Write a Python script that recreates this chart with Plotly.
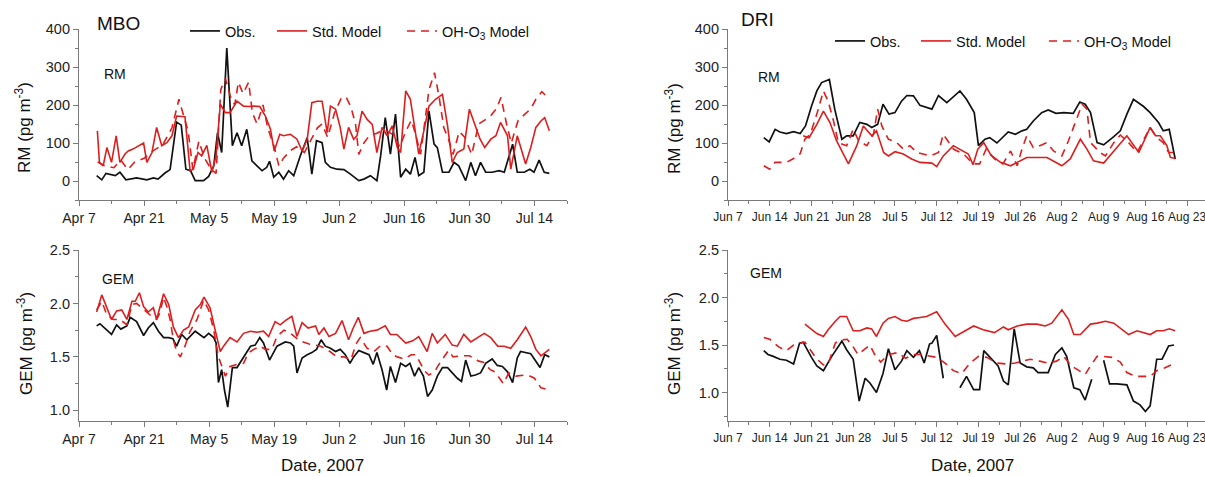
import pandas as pd
import plotly.graph_objects as go

W, H = 1205, 477

MBO_START = "2007-04-07"
DRI_START = "2007-06-07"

# ---------------- MBO RM (days since Apr 7) ----------------
mbo_rm_obs_day = [3.8, 4.9, 5.8, 7.8, 8.8, 10.1, 12.4, 14.6, 16.0, 17.0, 18.5, 19.6, 21.0, 22.0, 23.0, 24.0, 25.0, 26.8,
                  27.9, 29.0, 29.8, 30.7, 31.8, 32.5, 33.0, 34.0, 35.0, 36.1, 37.2, 38.3, 39.4, 40.4, 41.0, 41.9, 43.0,
                  44.0, 45.1, 46.2, 47.6, 49.1, 50.1, 51.1, 52.3, 53.0, 54.1, 55.5, 57.0, 58.4, 60.2, 61.3, 62.7, 64.1,
                  64.9, 65.9, 67.0, 68.1, 69.2, 70.3, 71.3, 72.3, 73.1, 74.2, 75.3, 76.4, 77.1, 78.2, 79.6, 80.7, 81.7,
                  83.2, 84.3, 85.3, 86.4, 87.5, 88.9, 90.4, 91.5, 93.3, 94.3, 95.8, 97.0, 97.9, 99.0, 100.1, 101.2]
mbo_rm_obs = [14, 3, 20, 14, 23, 3, 8, 3, 8, 5, 21, 30, 155, 147, 31, 27, 1, 1,
              12, 40, 127, 75, 350, 197, 93, 127, 93, 136, 53, 40, 27, 36, 52, 10, 23,
              5, 27, 14, 66, 114, 18, 106, 101, 49, 36, 31, 30, 18, 1, 5, 14, 1,
              66, 167, 71, 176, 10, 31, 18, 62, 14, 23, 184, 97, 88, 23, 23, 49, 40,
              1, 49, 14, 49, 23, 23, 27, 23, 97, 23, 23, 31, 23, 55, 23, 20]

mbo_rm_std_day = [3.95, 4.4, 5.2, 6.0, 7.0, 8.0, 8.8, 9.9, 10.6, 11.6, 13.9, 14.6, 15.7, 16.7, 17.8, 18.9, 20.0, 21.0,
                  22.8, 23.9, 24.6, 25.6, 26.4, 27.5, 28.6, 29.5, 30.4, 31.5, 32.5, 34.0, 35.4, 36.5, 37.6, 38.9, 40.1,
                  41.2, 42.0, 43.2, 44.0, 45.5, 46.9, 48.0, 49.1, 50.1, 51.2, 52.3, 53.4, 54.1, 55.2, 56.2, 57.0, 58.0,
                  59.1, 59.8, 60.9, 62.0, 63.1, 64.1, 65.2, 66.3, 67.4, 68.5, 69.2, 70.3, 71.3, 72.2, 73.1, 74.2, 75.3,
                  76.7, 78.2, 79.3, 80.3, 81.4, 82.8, 84.0, 85.2, 86.3, 87.3, 88.6, 89.7, 90.7, 92.2, 92.9, 94.3, 95.4,
                  96.1, 97.2, 98.3, 99.4, 100.2, 101.2]
mbo_rm_std = [132, 49, 40, 88, 49, 119, 49, 71, 79, 84, 100, 49, 75, 141, 93, 101, 119, 171,
              169, 27, 31, 75, 66, 94, 23, 66, 202, 180, 180, 210, 197, 196, 197, 196, 171,
              136, 79, 123, 119, 123, 110, 79, 110, 206, 210, 210, 127, 197, 189, 141, 84, 141,
              110, 119, 184, 162, 149, 75, 141, 119, 145, 88, 75, 237, 215, 145, 71, 132, 197,
              215, 228, 145, 49, 75, 84, 189, 145, 110, 88, 110, 119, 154, 119, 31, 119, 75,
              45, 88, 141, 158, 167, 132]

mbo_rm_oh_day = [4.0, 5.5, 7.5, 9.0, 10.5, 12.0, 14.0, 16.0, 18.0, 20.0, 21.5, 22.5, 23.5, 24.5, 25.8, 27.0, 28.5, 29.5,
                 30.5, 31.5, 32.5, 33.5, 34.3, 35.3, 36.5, 37.3, 38.3, 39.6, 40.6, 42.0, 43.0, 44.0, 45.5, 46.8, 48.5,
                 50.0, 51.3, 52.3, 53.5, 55.0, 56.5, 57.5, 58.5, 59.5, 60.2, 61.3, 62.5, 64.0, 65.5, 66.5, 67.8, 69.0,
                 70.3, 71.5, 72.5, 73.5, 75.3, 76.5, 77.5, 78.5, 79.5, 80.5, 81.8, 83.0, 84.5, 86.0, 87.3, 88.5, 89.8,
                 90.8, 92.0, 93.0, 94.5, 95.8, 97.2, 98.3, 99.6, 101.2]
mbo_rm_oh = [50, 40, 35, 55, 30, 50, 60, 80, 95, 140, 215, 170, 130, 30, 105, 60, 30, 20,
             240, 270, 225, 200, 260, 230, 260, 180, 150, 200, 140, 90, 40, 60, 80, 90, 75,
             110, 140, 150, 115, 180, 220, 220, 195, 150, 70, 100, 120, 125, 135, 130, 120, 90,
             130, 160, 120, 70, 240, 285, 220, 140, 110, 70, 130, 115, 70, 150, 160, 170, 190,
             220, 150, 100, 160, 175, 190, 215, 235, 215]

# ---------------- MBO GEM ----------------
mbo_gem_obs_day = [3.8, 4.5, 7.0, 8.1, 9.0, 10.3, 11.0, 12.4, 13.9, 14.9, 16.0, 17.1, 18.2, 19.3, 20.2, 21.0, 22.1, 23.2,
                   25.0, 26.1, 26.9, 27.9, 29.0, 29.5, 30.0, 30.7, 31.3, 32.0, 33.0, 34.0, 35.4, 36.9, 37.9, 38.9, 39.7,
                   41.0, 42.6, 44.4, 45.5, 46.2, 46.9, 48.0, 49.1, 50.1, 51.1, 52.1, 53.0, 54.1, 55.2, 56.2, 57.3, 58.3,
                   59.1, 60.2, 61.3, 62.4, 63.3, 64.1, 65.2, 66.2, 67.0, 68.1, 69.2, 70.3, 71.2, 72.2, 73.1, 74.1, 75.0,
                   76.0, 77.1, 78.2, 79.3, 80.3, 81.4, 82.3, 83.2, 84.3, 85.3, 86.4, 87.5, 88.9, 90.0, 91.1, 92.2, 93.3,
                   94.3, 95.0, 96.1, 97.2, 98.3, 99.2, 100.2, 101.2]
mbo_gem_obs = [1.79, 1.81, 1.71, 1.80, 1.76, 1.79, 1.87, 1.83, 1.70, 1.77, 1.82, 1.74, 1.68, 1.68, 1.67, 1.60, 1.71, 1.66,
               1.74, 1.71, 1.68, 1.72, 1.68, 1.63, 1.26, 1.38, 1.19, 1.03, 1.40, 1.40, 1.50, 1.60, 1.61, 1.68, 1.63,
               1.47, 1.60, 1.64, 1.63, 1.60, 1.35, 1.49, 1.52, 1.54, 1.57, 1.66, 1.60, 1.58, 1.55, 1.57, 1.52, 1.44,
               1.50, 1.56, 1.54, 1.52, 1.43, 1.54, 1.38, 1.19, 1.41, 1.26, 1.44, 1.41, 1.44, 1.32, 1.40, 1.32, 1.13,
               1.19, 1.32, 1.40, 1.40, 1.35, 1.30, 1.27, 1.47, 1.32, 1.33, 1.35, 1.44, 1.48, 1.42, 1.41, 1.36, 1.26,
               1.49, 1.55, 1.54, 1.53, 1.46, 1.40, 1.52, 1.50]

mbo_gem_std_day = [3.8, 4.9, 6.0, 7.0, 8.1, 9.2, 10.3, 11.4, 12.1, 13.0, 13.9, 14.9, 16.0, 16.7, 18.2, 19.3, 20.3, 21.4,
                   22.5, 23.6, 25.0, 26.1, 26.9, 28.2, 29.3, 30.4, 31.1, 32.5, 34.0, 35.4, 36.9, 38.3, 39.7, 40.8, 42.2,
                   43.3, 44.4, 45.8, 46.9, 48.0, 49.3, 50.9, 51.6, 52.7, 53.8, 55.2, 56.6, 58.0, 59.0, 60.1, 61.3, 62.6,
                   64.1, 65.9, 67.0, 68.4, 70.3, 71.8, 73.1, 74.9, 76.0, 77.1, 78.8, 80.3, 81.4, 82.8, 84.3, 85.8, 87.2,
                   88.6, 90.1, 91.5, 92.9, 94.3, 96.1, 97.2, 98.3, 99.4, 100.2, 101.2]
mbo_gem_std = [1.92, 2.08, 1.96, 1.85, 1.93, 1.94, 1.85, 2.02, 2.02, 2.10, 1.97, 1.92, 1.96, 1.85, 2.09, 1.99, 1.78, 1.68,
               1.75, 1.78, 1.94, 1.99, 2.06, 1.96, 1.75, 1.55, 1.60, 1.68, 1.64, 1.72, 1.74, 1.73, 1.74, 1.69, 1.83,
               1.80, 1.84, 1.88, 1.69, 1.82, 1.77, 1.79, 1.71, 1.77, 1.69, 1.72, 1.84, 1.66, 1.77, 1.87, 1.72, 1.74,
               1.75, 1.79, 1.71, 1.71, 1.63, 1.65, 1.69, 1.55, 1.72, 1.63, 1.71, 1.61, 1.60, 1.71, 1.64, 1.68, 1.72,
               1.68, 1.60, 1.60, 1.58, 1.66, 1.78, 1.69, 1.57, 1.51, 1.54, 1.57]

mbo_gem_oh_day = [3.8, 4.9, 6.0, 7.4, 8.8, 10.3, 11.4, 12.4, 13.5, 14.6, 15.6, 16.7, 17.4, 18.2, 18.9, 19.6, 20.3, 21.0,
                  21.8, 22.8, 23.9, 25.4, 26.8, 27.9, 29.0, 30.0, 30.7, 31.5, 32.5, 34.0, 35.4, 36.5, 37.6, 39.0, 40.1,
                  41.5, 42.6, 44.1, 45.5, 47.5, 49.5, 52.0, 54.0, 55.5, 57.0, 58.5, 59.6, 60.5, 62.0, 63.5, 65.0, 66.3,
                  67.5, 68.5, 70.0, 71.5, 72.5, 74.3, 75.3, 76.5, 77.3, 79.5, 80.5, 82.5, 84.0, 86.0, 87.0, 88.5, 89.5,
                  90.5, 91.3, 92.5, 94.0, 96.0, 97.0, 98.0, 99.4, 100.4, 101.2]
mbo_gem_oh = [1.94, 2.02, 1.89, 1.85, 1.85, 1.80, 1.99, 2.00, 1.96, 1.92, 1.88, 1.85, 1.91, 2.06, 1.97, 1.85, 1.66, 1.55,
              1.50, 1.60, 1.74, 1.85, 2.03, 1.94, 1.75, 1.50, 1.41, 1.32, 1.41, 1.43, 1.44, 1.54, 1.57, 1.60, 1.57,
              1.57, 1.69, 1.75, 1.72, 1.65, 1.62, 1.60, 1.55, 1.50, 1.50, 1.47, 1.62, 1.68, 1.58, 1.55, 1.61, 1.60,
              1.52, 1.50, 1.48, 1.52, 1.52, 1.37, 1.33, 1.36, 1.42, 1.56, 1.50, 1.51, 1.51, 1.46, 1.45, 1.38, 1.36,
              1.30, 1.25, 1.35, 1.32, 1.33, 1.32, 1.30, 1.21, 1.20, 1.22]

# ---------------- DRI RM (days since Jun 7) ----------------
dri_rm_obs_day = [6.0, 6.9, 7.9, 8.7, 9.8, 11.0, 12.1, 13.0, 14.0, 14.9, 15.7, 17.0, 17.9, 19.1, 19.9, 21.0, 22.1, 23.3,
                  24.1, 25.1, 26.0, 27.0, 28.0, 29.1, 30.0, 31.1, 32.2, 34.2, 35.3, 36.7, 38.9, 40.0, 41.3, 42.0, 43.1,
                  43.9, 45.1, 47.0, 48.2, 49.3, 50.1, 51.2, 52.6, 53.7, 55.0, 56.3, 57.9, 59.0, 59.9, 60.8, 61.9, 63.0,
                  64.7, 65.8, 66.9, 68.0, 69.7, 70.8, 72.2, 73.0, 74.0, 74.7, 75.0]
dri_rm_obs = [114, 103, 136, 129, 125, 130, 125, 145, 197, 237, 259, 267, 189, 110, 119, 119, 154, 149,
              141, 149, 202, 176, 180, 210, 225, 224, 199, 189, 225, 206, 237, 215, 180, 93, 110,
              114, 100, 129, 123, 132, 136, 158, 180, 187, 178, 180, 178, 208, 202, 180, 101, 95,
              117, 132, 176, 215, 196, 180, 154, 132, 136, 79, 58]

dri_rm_std_day = [12.6, 13.6, 14.9, 16.0, 17.1, 18.2, 20.2, 21.6, 22.7, 24.1, 24.9, 26.1, 26.9, 28.0, 29.4, 30.8, 32.2,
                  34.2, 35.0, 36.1, 37.8, 39.5, 40.3, 41.1, 41.9, 42.9, 44.1, 45.7, 47.4, 48.5, 50.1, 53.5, 56.0, 57.4,
                  59.1, 60.2, 61.3, 63.0, 65.2, 66.9, 68.9, 70.8, 71.7, 72.5, 73.6, 74.2, 75.0]
dri_rm_std = [119, 114, 149, 184, 154, 106, 45, 93, 145, 119, 132, 75, 66, 77, 71, 58, 49,
              47, 38, 66, 93, 79, 71, 43, 84, 101, 68, 49, 40, 49, 62, 62, 40, 58,
              110, 84, 53, 47, 88, 119, 75, 141, 119, 119, 93, 62, 59]

dri_rm_oh_day = [6.0, 7.0, 7.9, 9.8, 11.0, 12.1, 12.9, 13.8, 14.9, 16.0, 16.8, 17.7, 18.5, 19.9, 21.0, 21.9, 23.3, 24.4,
                 25.1, 25.8, 26.9, 28.3, 29.4, 30.5, 31.7, 32.2, 33.9, 35.3, 36.1, 37.8, 39.5, 41.1, 42.2, 43.3, 44.7,
                 46.1, 47.4, 48.5, 49.3, 50.1, 51.2, 52.3, 53.5, 54.6, 56.0, 57.1, 58.3, 59.4, 60.2, 60.8, 62.4, 63.3,
                 64.7, 65.8, 67.2, 68.6, 70.8, 71.9, 73.0, 73.9, 74.7]
dri_rm_oh = [40, 31, 49, 49, 59, 72, 110, 123, 176, 237, 210, 158, 101, 93, 136, 106, 93, 123,
             189, 145, 110, 101, 84, 93, 75, 73, 66, 75, 123, 84, 71, 45, 45, 84, 58,
             45, 79, 40, 84, 119, 88, 93, 101, 79, 66, 106, 154, 202, 189, 101, 75, 66,
             101, 121, 101, 75, 141, 114, 101, 75, 75]

# ---------------- DRI GEM ----------------
dri_gem_obs_day = [6.0, 6.7, 7.6, 8.7, 9.8, 11.0, 12.0, 12.6, 14.0, 14.9, 16.0, 17.4, 19.1, 19.9, 21.0, 22.0, 23.0, 23.8,
                   24.9, 26.0, 26.9, 28.0, 29.1, 30.0, 31.1, 32.1, 32.9, 33.8, 34.2, 35.0, 36.1, 37.5, 38.9, 40.0, 41.2,
                   42.2, 42.9, 44.2, 45.3, 46.2, 47.0, 48.0, 49.0, 50.1, 51.2, 52.0, 53.7, 54.9, 56.0, 56.8, 58.0, 59.0,
                   59.9, 61.0, 62.0, 63.0, 64.0, 65.2, 66.9, 68.0, 69.1, 70.0, 70.8, 71.9, 72.8, 73.9, 74.8]
dri_gem_obs = [1.44, 1.40, 1.38, 1.35, 1.34, 1.30, 1.52, 1.53, 1.37, 1.28, 1.23, 1.38, 1.54, 1.45, 1.35, 0.91, 1.15, 1.10,
               1.00, 1.20, 1.46, 1.24, 1.33, 1.44, 1.37, 1.44, 1.31, 1.51, 1.52, 1.60, 1.15, None, 1.05, 1.17, 1.03,
               1.03, 1.44, 1.35, 1.28, 1.12, 1.08, 1.67, 1.31, 1.27, 1.26, 1.21, 1.21, 1.40, 1.47, 1.38, 1.05, 1.03,
               0.92, 1.14, None, 1.34, 1.09, 1.09, 1.08, 0.91, 0.87, 0.80, 0.86, 1.35, 1.35, 1.49, 1.50]

dri_gem_std_day = [12.9, 14.0, 14.9, 16.0, 16.8, 18.0, 18.8, 19.9, 21.0, 22.1, 23.3, 24.1, 24.9, 26.0, 26.9, 28.0, 29.1,
                   30.0, 31.1, 32.2, 33.3, 35.0, 36.4, 38.1, 39.5, 41.2, 42.8, 44.7, 46.2, 47.0, 48.5, 50.1, 51.8, 53.2,
                   54.3, 56.0, 57.1, 58.0, 59.1, 60.8, 61.9, 63.3, 64.7, 65.8, 67.2, 68.6, 70.8, 71.9, 73.0, 74.0, 75.0]
dri_gem_std = [1.72, 1.66, 1.62, 1.59, 1.66, 1.75, 1.80, 1.80, 1.65, 1.65, 1.68, 1.67, 1.59, 1.73, 1.78, 1.80, 1.76,
               1.75, 1.78, 1.79, 1.80, 1.85, 1.72, 1.59, 1.64, 1.70, 1.66, 1.63, 1.69, 1.66, 1.70, 1.72, 1.72, 1.70,
               1.73, 1.87, 1.77, 1.61, 1.61, 1.72, 1.73, 1.75, 1.73, 1.68, 1.61, 1.65, 1.61, 1.65, 1.65, 1.67, 1.65]

dri_gem_oh_day = [6.0, 7.0, 8.5, 9.8, 11.0, 12.0, 12.9, 13.8, 14.8, 16.0, 16.8, 18.0, 18.8, 20.0, 21.0, 21.8, 22.8, 23.8,
                  24.6, 25.6, 26.9, 28.5, 29.8, 31.1, 32.2, 34.0, 35.0, 36.4, 37.8, 39.2, 40.6, 42.0, 43.4, 45.1, 46.7,
                  48.2, 49.5, 50.7, 52.3, 53.7, 55.1, 56.3, 57.6, 58.8, 59.9, 60.8, 61.9, 63.0, 64.4, 65.8, 66.9, 68.3,
                  69.7, 70.8, 71.9, 73.3, 75.0]
dri_gem_oh = [1.58, 1.56, 1.48, 1.44, 1.50, 1.52, 1.53, 1.45, 1.36, 1.29, 1.30, 1.52, 1.55, 1.56, 1.48, 1.40, 1.45, 1.50,
              1.40, 1.32, 1.40, 1.42, 1.36, 1.40, 1.40, 1.38, 1.37, 1.31, 1.23, 1.20, 1.31, 1.38, 1.37, 1.31, 1.30,
              1.31, 1.33, 1.35, 1.33, 1.31, 1.33, 1.38, 1.28, 1.23, 1.19, 1.28, 1.38, 1.38, 1.37, 1.32, 1.21, 1.17,
              1.17, 1.17, 1.23, 1.26, 1.31]

# ---------------- labels ----------------
series_names = ["Obs.", "Std. Model", "OH-O<sub>3</sub> Model"]
mbo_ticks = ["Apr 7", "Apr 21", "May 5", "May 19", "Jun 2", "Jun 16", "Jun 30", "Jul 14"]
dri_ticks = ["Jun 7", "Jun 14", "Jun 21", "Jun 28", "Jul 5", "Jul 12", "Jul 19", "Jul 26", "Aug 2", "Aug 9",
             "Aug 16", "Aug 23"]

BLACK = "#111111"
RED = "#dc1e1e"
AXC = "#7a7a7a"
FONT = "Liberation Sans, Arial, sans-serif"
DAY_MS = 86400000


def dates(start, days):
    base = pd.Timestamp(start)
    return [base + pd.Timedelta(days=d) for d in days]


def tickdates(start, n, step):
    base = pd.Timestamp(start)
    return [base + pd.Timedelta(days=step * i) for i in range(n)]


def px(x):
    return x / W


def py(y):
    return 1 - y / H


fig = go.Figure()
styles = [dict(color=BLACK, width=1.7), dict(color=RED, width=1.6), dict(color=RED, width=1.6, dash="8px,6px")]

panels = [
    ("x", "y", MBO_START, [(mbo_rm_obs_day, mbo_rm_obs), (mbo_rm_std_day, mbo_rm_std), (mbo_rm_oh_day, mbo_rm_oh)], ["legend", "legend2", "legend3"], True),
    ("x2", "y2", DRI_START, [(dri_rm_obs_day, dri_rm_obs), (dri_rm_std_day, dri_rm_std), (dri_rm_oh_day, dri_rm_oh)], ["legend4", "legend5", "legend6"], True),
    ("x3", "y3", MBO_START, [(mbo_gem_obs_day, mbo_gem_obs), (mbo_gem_std_day, mbo_gem_std), (mbo_gem_oh_day, mbo_gem_oh)], ["legend", "legend2", "legend3"], False),
    ("x4", "y4", DRI_START, [(dri_gem_obs_day, dri_gem_obs), (dri_gem_std_day, dri_gem_std), (dri_gem_oh_day, dri_gem_oh)], ["legend4", "legend5", "legend6"], False),
]
for xa, ya, start, data, legs, show in panels:
    for i, (d, v) in enumerate(data):
        fig.add_trace(go.Scatter(x=dates(start, d), y=v, mode="lines", line=styles[i], name=series_names[i],
                                 xaxis=xa, yaxis=ya, legend=legs[i], showlegend=show, connectgaps=False))

axis_common = dict(showline=True, linecolor=AXC, linewidth=1.2, showgrid=False, zeroline=False, automargin=False,
                   ticks="outside", tickcolor=AXC, ticklen=5, tickwidth=1.2, ticklabeloverflow="allow",
                   tickfont=dict(family=FONT, size=14.5, color="#222"))

LX = [px(79), px(567)]
RX = [px(728), 1.0]
TOPY = [py(200), py(29)]
BOTY = [py(421), py(250)]

mbo_tv = tickdates(MBO_START, len(mbo_ticks), 14)
dri_tv = tickdates(DRI_START, len(dri_ticks), 7)

xl = dict(axis_common, type="date", range=[pd.Timestamp(MBO_START), pd.Timestamp("2007-07-21")],
          tickvals=mbo_tv, ticktext=mbo_ticks, domain=LX,
          tickfont=dict(family=FONT, size=14, color="#222"),
          minor=dict(dtick=7 * DAY_MS, tick0=MBO_START, ticks="outside", ticklen=3, tickcolor=AXC))
xr = dict(axis_common, type="date", range=[pd.Timestamp(DRI_START), pd.Timestamp("2007-08-26")],
          tickvals=dri_tv, ticktext=dri_ticks, domain=RX,
          tickfont=dict(family=FONT, size=12, color="#222"),
          minor=dict(dtick=int(3.5 * DAY_MS), tick0=DRI_START, ticks="outside", ticklen=3, tickcolor=AXC))
y_rm = dict(axis_common, range=[-50, 400], tickvals=[0, 100, 200, 300, 400],
            minor=dict(dtick=50, tick0=0, ticks="outside", ticklen=3, tickcolor=AXC))
y_gem = dict(axis_common, tickvals=[1.0, 1.5, 2.0, 2.5], tickformat=".1f",
             minor=dict(dtick=0.25, tick0=0, ticks="outside", ticklen=3, tickcolor=AXC))

leg_font = dict(family=FONT, size=14.5, color="#111")


def leg(xp, yp):
    return dict(orientation="h", x=px(xp), y=py(yp), xanchor="left", yanchor="middle",
                font=leg_font, bgcolor="rgba(0,0,0,0)", borderwidth=0)


fig.update_layout(
    width=W, height=H, margin=dict(l=0, r=0, t=0, b=0, autoexpand=False),
    paper_bgcolor="white", plot_bgcolor="white",
    font=dict(family=FONT, color="#111"),
    xaxis=dict(xl, anchor="y"),
    yaxis=dict(y_rm, domain=TOPY, anchor="x"),
    xaxis2=dict(xr, anchor="y2"),
    yaxis2=dict(y_rm, domain=TOPY, anchor="x2"),
    xaxis3=dict(xl, anchor="y3"),
    yaxis3=dict(y_gem, range=[0.9, 2.5], domain=BOTY, anchor="x3"),
    xaxis4=dict(xr, anchor="y4"),
    yaxis4=dict(y_gem, range=[0.7, 2.5], domain=BOTY, anchor="x4"),
    legend=leg(185, 31),
    legend2=leg(272, 31),
    legend3=leg(402, 31),
    legend4=leg(830, 41),
    legend5=leg(916, 41),
    legend6=leg(1044, 41),
)

ann = [
    ("MBO", 95, 24, 19, "left", 0),
    ("RM", 102, 74, 14, "left", 0),
    ("GEM", 100, 279, 14, "left", 0),
    ("DRI", 739, 19, 19, "left", 0),
    ("RM", 756, 77, 14, "left", 0),
    ("GEM", 748, 273, 14, "left", 0),
    ("Date, 2007", 322, 465, 17, "center", 0),
    ("Date, 2007", 972, 465, 17, "center", 0),
    ("RM (pg m<sup>-3</sup>)", 23, 128, 17, "center", -90),
    ("GEM (pg m<sup>-3</sup>)", 25, 344, 17, "center", -90),
    ("RM (pg m<sup>-3</sup>)", 673, 129, 17, "center", -90),
    ("GEM (pg m<sup>-3</sup>)", 673, 344, 17, "center", -90),
]
for text, x, y, size, xa, ang in ann:
    fig.add_annotation(text=text, x=px(x), y=py(y), xref="paper", yref="paper", xanchor=xa, yanchor="middle",
                       showarrow=False, textangle=ang, font=dict(family=FONT, size=size, color="#111"))

fig.write_html("out.html", config={"displayModeBar": False},
               post_script="document.body.style.margin='0px';document.body.style.overflow='hidden';")
